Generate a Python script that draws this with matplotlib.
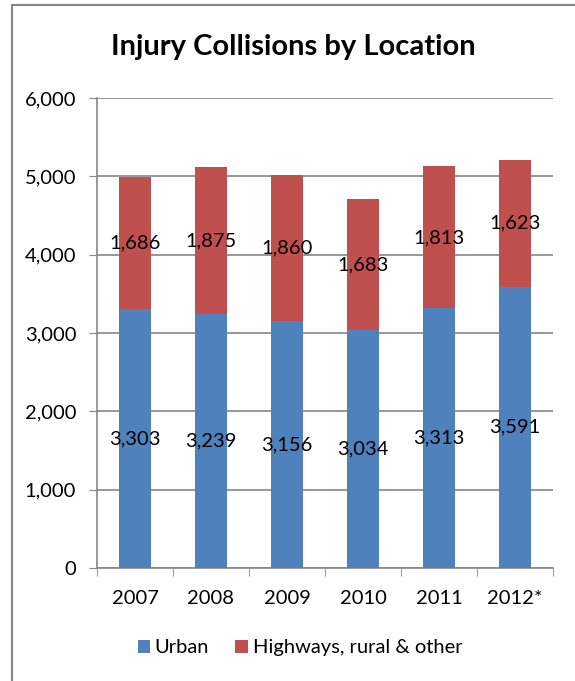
import numpy as np
import matplotlib.pyplot as plt
from matplotlib.patches import Rectangle

years = ['2007', '2008', '2009', '2010', '2011', '2012*']
urban = [3303, 3239, 3156, 3034, 3313, 3591]
highways = [1686, 1875, 1860, 1683, 1813, 1623]

plt.rcParams['font.family'] = ['Lato', 'DejaVu Sans']

fig = plt.figure(figsize=(5.75, 6.81), dpi=100)
ax = fig.add_axes([0.1687, 0.1659, 0.793, 0.6902])

x = np.arange(len(years))
w = 0.41
b1 = ax.bar(x, urban, w, color='#4F81BD', label='Urban', zorder=3)
b2 = ax.bar(x, highways, w, bottom=urban, color='#C0504D',
            label='Highways, rural & other', zorder=3)

# value labels in the middle of each segment
for i in range(len(years)):
    ax.text(x[i], urban[i] / 2, f'{urban[i]:,}', ha='center', va='center',
            fontsize=14.5, zorder=4)
    ax.text(x[i], urban[i] + highways[i] / 2, f'{highways[i]:,}',
            ha='center', va='center', fontsize=14.5, zorder=4)

ax.set_xlim(-0.5, len(years) - 0.5)
ax.set_ylim(0, 6000)
ax.set_yticks(range(0, 6001, 1000))
ax.set_yticklabels([f'{v:,}' for v in range(0, 6001, 1000)], fontsize=14.5)
ax.set_xticks(x)
ax.set_xticklabels(years, fontsize=14.5)
ax.set_xticks(np.arange(-0.5, len(years), 1), minor=True)
ax.tick_params(axis='x', which='major', length=0, pad=16)
ax.tick_params(axis='x', which='minor', length=6, color='#868686', direction='out')
ax.tick_params(axis='y', length=6, color='#868686', direction='out', pad=9)

ax.grid(axis='y', color='#868686', linewidth=1.2, zorder=0)
for s in ['top', 'right']:
    ax.spines[s].set_visible(False)
for s in ['left', 'bottom']:
    ax.spines[s].set_color('#868686')
    ax.spines[s].set_linewidth(1.2)

ax.legend(loc='center', bbox_to_anchor=(0.445, -0.17), ncol=2, frameon=False,
          fontsize=14.5, handlelength=0.6, handleheight=0.6,
          handletextpad=0.25, columnspacing=1.3)

fig.text(0.51, 0.931, 'Injury Collisions by Location', ha='center',
         va='center', fontsize=21, fontweight='bold')

# chart border, running off the right and bottom edges
fig.patches.append(Rectangle((12 / 575, -0.1), 1.2, 1.1 - 5 / 681,
                             transform=fig.transFigure, fill=False,
                             edgecolor='#868686', linewidth=1.5))

fig.savefig('out.png', dpi=100)
